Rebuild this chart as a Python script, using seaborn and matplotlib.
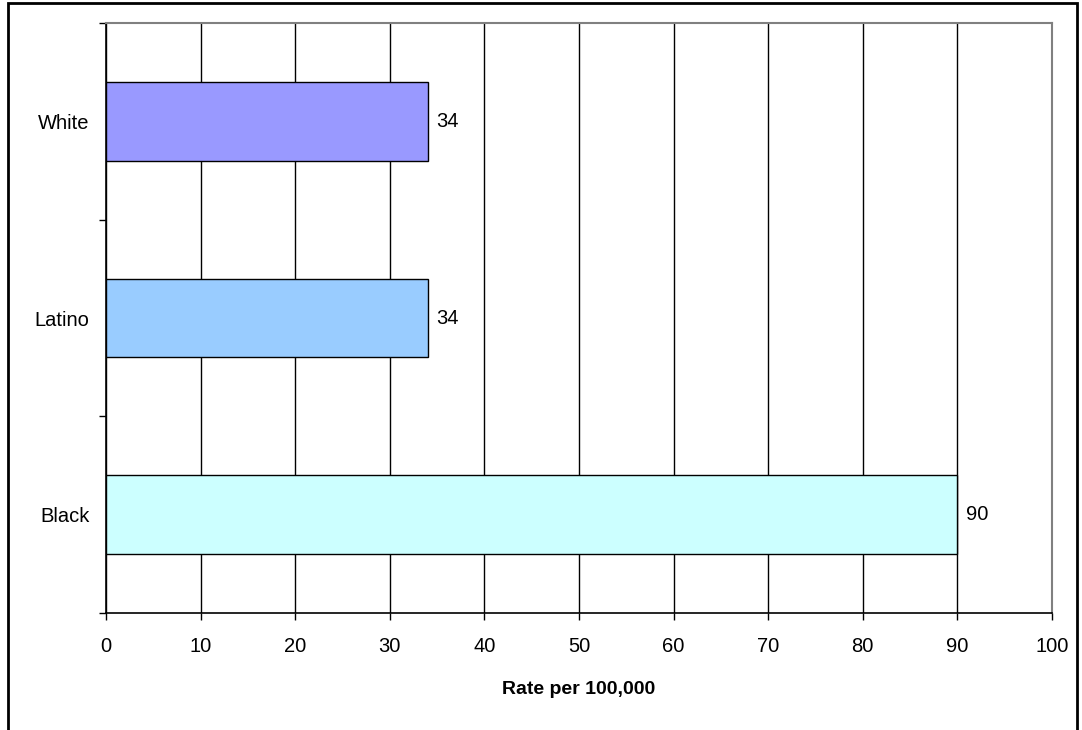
import numpy as np
import pandas as pd
import seaborn as sns
import matplotlib.pyplot as plt
from matplotlib.patches import Rectangle

groups = ['White', 'Latino', 'Black']
rates = [34, 34, 90]
bar_colors = ['#9999FF', '#99CCFF', '#CCFFFF']
x_ticks = [0, 10, 20, 30, 40, 50, 60, 70, 80, 90, 100]

df = pd.DataFrame({'group': groups, 'rate': rates})

sns.set_style('white')
plt.rcParams['font.family'] = ['Liberation Sans', 'DejaVu Sans']
plt.rcParams['text.color'] = 'black'
plt.rcParams['axes.labelcolor'] = 'black'
plt.rcParams['xtick.color'] = 'black'
plt.rcParams['ytick.color'] = 'black'

fig = plt.figure(figsize=(10.82, 7.30), dpi=100)
ax = fig.add_axes([106 / 1082, 1 - 613 / 730, (1052 - 106) / 1082, (613 - 23) / 730])

sns.barplot(data=df, x='rate', y='group', hue='group', palette=bar_colors,
            order=groups, hue_order=groups, orient='h', width=0.4, saturation=1,
            edgecolor='black', linewidth=1, legend=False, ax=ax, zorder=3)

ax.set_xlim(0, 100)
ax.set_ylim(2.5, -0.5)
ax.set_xticks(x_ticks)
ax.xaxis.grid(True, color='black', linewidth=1)
ax.set_axisbelow(True)

# category labels without ticks, tick marks on the boundaries
ax.set_yticks(range(len(groups)))
ax.set_yticklabels(groups)
ax.set_yticks([-0.5, 0.5, 1.5, 2.5], minor=True)
ax.tick_params(axis='y', which='major', length=0, pad=12, labelsize=14.5)
ax.tick_params(axis='y', which='minor', left=True, length=5, width=1, color='black', direction='out')
ax.tick_params(axis='x', bottom=True, length=5, width=1, color='black', direction='out', pad=12, labelsize=14.5)

ax.set_ylabel('')
ax.set_xlabel('Rate per 100,000', fontsize=14, fontweight='bold', labelpad=18)

for side in ['left', 'bottom']:
    ax.spines[side].set_color('black')
    ax.spines[side].set_linewidth(1.2)
for side in ['top', 'right']:
    ax.spines[side].set_color('#808080')
    ax.spines[side].set_linewidth(1.5)

for i, v in enumerate(rates):
    ax.annotate(str(v), xy=(v, i), xytext=(6, 0), textcoords='offset points',
                ha='left', va='center', fontsize=14.5)

# outer chart frame
fig.patches.append(Rectangle((8 / 1082, -0.05), (1077 - 8) / 1082, 1.05 - 3 / 730,
                             transform=fig.transFigure, fill=False,
                             edgecolor='black', linewidth=2))

fig.savefig('out.png', dpi=100)
